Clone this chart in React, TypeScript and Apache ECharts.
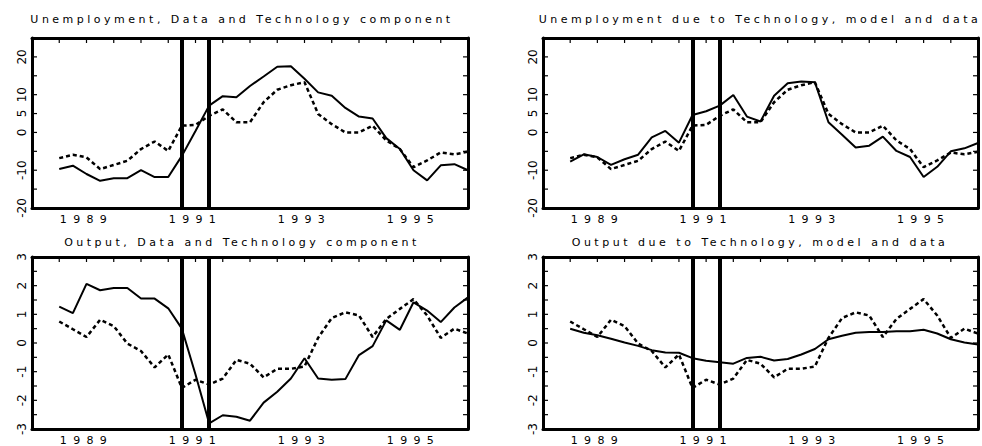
import React, { useEffect, useRef } from "react";
import * as echarts from "echarts";

// Quarterly axis 1988Q1 .. 1996Q1
const axisQuarters: string[] = [
  "1988Q1","1988Q2","1988Q3","1988Q4",
  "1989Q1","1989Q2","1989Q3","1989Q4",
  "1990Q1","1990Q2","1990Q3","1990Q4",
  "1991Q1","1991Q2","1991Q3","1991Q4",
  "1992Q1","1992Q2","1992Q3","1992Q4",
  "1993Q1","1993Q2","1993Q3","1993Q4",
  "1994Q1","1994Q2","1994Q3","1994Q4",
  "1995Q1","1995Q2","1995Q3","1995Q4",
  "1996Q1",
];
const dataQuarters: string[] = axisQuarters.slice(2); // data from 1988Q3
// half-year tick marks along the top edge
const xTickQuarters: string[] = axisQuarters.filter((_q, i) => i % 2 === 0);

const labelQuarters = ["1989Q1", "1991Q1", "1993Q1", "1995Q1"];
const recessionBounds = ["1990Q4", "1991Q2"];

const titles = [
  "Unemployment, Data and Technology component",
  "Unemployment due to Technology, model and data",
  "Output, Data and Technology component",
  "Output due to Technology, model and data",
];

const unempTicks = [-20, -15, -10, -5, 0, 5, 10, 15, 20, 25];
const outputTicks = [-3, -2.5, -2, -1.5, -1, -0.5, 0, 0.5, 1, 1.5, 2, 2.5, 3];
const unempTickLabels = [20, 10, 5, 0, -10, -20];
const outputTickLabels = [3, 2, 1, 0, -1, -2, -3];

// dashed: data
const unempData = [
  -6.8, -5.9, -6.6, -9.7, -8.6, -7.5, -4.4, -2.4, -4.9, 1.8, 2.0, 4.4, 6.1, 2.7, 2.7, 8.0,
  11.3, 12.5, 13.3, 4.9, 2.2, 0.0, 0.0, 1.8, -2.1, -4.4, -9.2, -7.4, -5.3, -5.8, -5.1,
];
// solid, panel 1: technology component
const unempTechComponent = [
  -9.7, -8.8, -11.0, -12.8, -12.1, -12.1, -10.0, -11.8, -11.8, -6.2, 0.4, 7.1, 9.6, 9.3, 12.3, 14.8,
  17.4, 17.5, 14.2, 10.6, 9.7, 6.5, 4.2, 3.7, -1.5, -4.4, -10.0, -12.7, -8.7, -8.4, -10.0,
];
// solid, panel 2: due to technology, model
const unempTechModel = [
  -7.7, -5.8, -6.5, -8.6, -7.1, -5.9, -1.3, 0.4, -2.7, 4.6, 5.6, 7.1, 9.9, 4.2, 2.9, 9.7,
  13.0, 13.5, 13.3, 2.7, -0.6, -4.0, -3.5, -1.1, -4.9, -6.5, -11.8, -9.1, -5.0, -4.2, -2.8,
];
// dashed: output data
const outputData = [
  0.75, 0.48, 0.21, 0.81, 0.59, -0.02, -0.28, -0.85, -0.4, -1.57, -1.28, -1.45, -1.24, -0.59, -0.72, -1.2,
  -0.9, -0.9, -0.82, 0.18, 0.87, 1.07, 0.96, 0.21, 0.84, 1.19, 1.53, 0.96, 0.18, 0.5, 0.33,
];
// solid, panel 3
const outputTechComponent = [
  1.27, 1.04, 2.06, 1.84, 1.92, 1.92, 1.55, 1.55, 1.21, 0.5, -1.1, -2.8, -2.52, -2.57, -2.71, -2.08,
  -1.7, -1.24, -0.53, -1.24, -1.28, -1.26, -0.42, -0.11, 0.79, 0.46, 1.42, 1.13, 0.73, 1.24, 1.59,
];
// solid, panel 4
const outputTechModel = [
  0.5, 0.36, 0.27, 0.15, 0.02, -0.1, -0.25, -0.33, -0.34, -0.53, -0.62, -0.67, -0.72, -0.52, -0.48, -0.61,
  -0.56, -0.4, -0.21, 0.13, 0.25, 0.36, 0.38, 0.38, 0.41, 0.41, 0.46, 0.33, 0.13, 0.02, -0.05,
];

const FONT = "DejaVu Sans";
const titleWidths = [420, 439, 352, 373];
const yearLabelWidth = 47;
const TICK_LEN = 5;
const TICK_W = 1.2;

const grids = [
  { left: 32, top: 38, width: 436, height: 170 },
  { left: 543, top: 38, width: 435, height: 170 },
  { left: 32, top: 257, width: 436, height: 175 },
  { left: 543, top: 257, width: 435, height: 175 },
];
const titlePos = [
  { x: 242, y: 19 },
  { x: 760, y: 19 },
  { x: 242, y: 242 },
  { x: 760, y: 242 },
];

const pair = (arr: number[]) => arr.map((v, i) => [dataQuarters[i], v]);

export default function App() {
  const ref = useRef<HTMLDivElement>(null);

  useEffect(() => {
    if (!ref.current) return;
    const chart = echarts.init(ref.current, null, { renderer: "svg" });

    const xAxis: any[] = [];
    const yAxis: any[] = [];
    const series: any[] = [];

    const panels = [
      { solid: unempTechComponent, dashed: unempData, kind: "u" },
      { solid: unempTechModel, dashed: unempData, kind: "u" },
      { solid: outputTechComponent, dashed: outputData, kind: "o" },
      { solid: outputTechModel, dashed: outputData, kind: "o" },
    ];

    panels.forEach((p, g) => {
      const isU = p.kind === "u";
      const yCommon = {
        type: "value",
        gridIndex: g,
        min: isU ? -20 : -3,
        max: isU ? 25 : 3,
        interval: isU ? 5 : 0.5,
        splitLine: { show: false },
        axisTick: { show: false },
        axisLine: { show: true, onZero: false, lineStyle: { color: "#000", width: 3 } },
      };
      yAxis.push({
        ...yCommon,
        position: "left",
        axisLabel: {
          show: true,
          rotate: 90,
          margin: 4,
          color: "#000",
          fontFamily: FONT,
          fontSize: 12,
          formatter: (v: number) => {
            const list = isU ? unempTickLabels : outputTickLabels;
            return list.includes(v) ? String(v) : "";
          },
        },
      });
      yAxis.push({
        ...yCommon,
        position: "right",
        axisLabel: { show: false },
      });
      const xCommon = {
        type: "category",
        gridIndex: g,
        data: axisQuarters,
        boundaryGap: false,
        splitLine: { show: false },
        axisTick: { show: false },
        axisLine: { show: true, onZero: false, lineStyle: { color: "#000", width: 3 } },
      };
      xAxis.push({
        ...xCommon,
        position: "bottom",
        axisLabel: {
          show: true,
          margin: 6,
          color: "#000",
          fontFamily: FONT,
          fontSize: 11,
          interval: (_i: number, v: string) => labelQuarters.includes(v),
          formatter: (v: string) => v.slice(0, 4),
        },
      });
      xAxis.push({
        ...xCommon,
        position: "top",
        axisLabel: { show: false },
      });

      series.push({
        type: "line",
        xAxisIndex: g * 2,
        yAxisIndex: g * 2,
        data: pair(p.dashed),
        symbol: "none",
        silent: true,
        lineStyle: { color: "#000", width: 2.5, type: [4, 3] },
        markLine: {
          symbol: "none",
          silent: true,
          label: { show: false },
          lineStyle: { color: "#000", width: 4, type: "solid" },
          data: recessionBounds.map((q) => ({ xAxis: q })),
        },
      });
      series.push({
        type: "line",
        xAxisIndex: g * 2,
        yAxisIndex: g * 2,
        data: pair(p.solid),
        symbol: "none",
        silent: true,
        lineStyle: { color: "#000", width: 2 },
      });
    });

    const titleGraphics = titles.map((t, i) => ({
      id: `title${i}`,
      type: "text",
      x: titlePos[i].x,
      y: titlePos[i].y,
      style: {
        text: t,
        align: "center",
        verticalAlign: "middle",
        font: `11px "${FONT}"`,
        fill: "#000",
      },
    }));

    chart.setOption({
      animation: false,
      backgroundColor: "#fff",
      grid: grids.map((gr) => ({
        ...gr,
        show: false,
        containLabel: false,
      })),
      xAxis,
      yAxis,
      series,
      graphic: titleGraphics,
    });

    // Inward tick marks, positioned through the axes' own scales
    const tickGraphics: any[] = [];
    panels.forEach((p, g) => {
      const isU = p.kind === "u";
      const finder = { xAxisIndex: g * 2, yAxisIndex: g * 2 };
      const yMax = isU ? 25 : 3;
      xTickQuarters.forEach((q, k) => {
        const pt = chart.convertToPixel(finder as any, [q, yMax] as any) as any;
        if (!pt || !isFinite(pt[0]) || !isFinite(pt[1])) return;
        tickGraphics.push({
          id: `xt_${g}_${k}`,
          type: "line",
          silent: true,
          z: 50,
          shape: { x1: pt[0], y1: pt[1], x2: pt[0], y2: pt[1] + TICK_LEN },
          style: { stroke: "#000", lineWidth: TICK_W },
        });
      });
      (isU ? unempTicks : outputTicks).forEach((v, k) => {
        const a = chart.convertToPixel(finder as any, [axisQuarters[0], v] as any) as any;
        const b = chart.convertToPixel(finder as any, [axisQuarters[axisQuarters.length - 1], v] as any) as any;
        if (!a || !b || !isFinite(a[0]) || !isFinite(a[1]) || !isFinite(b[0])) return;
        tickGraphics.push({
          id: `yl_${g}_${k}`,
          type: "line",
          silent: true,
          z: 50,
          shape: { x1: a[0], y1: a[1], x2: a[0] + TICK_LEN, y2: a[1] },
          style: { stroke: "#000", lineWidth: TICK_W },
        });
        tickGraphics.push({
          id: `yr_${g}_${k}`,
          type: "line",
          silent: true,
          z: 50,
          shape: { x1: b[0] - TICK_LEN, y1: b[1], x2: b[0], y2: b[1] },
          style: { stroke: "#000", lineWidth: TICK_W },
        });
      });
    });
    if (tickGraphics.length) {
      chart.setOption({ graphic: [...titleGraphics, ...tickGraphics] });
    }

    const spaceTexts = () => {
      const root = ref.current;
      if (!root) return;
      root.querySelectorAll("text").forEach((el) => {
        const t = el as SVGTextElement;
        const s = t.textContent || "";
        let target = 0;
        const ti = titles.indexOf(s);
        if (ti >= 0) target = titleWidths[ti];
        else if (/^\d{4}$/.test(s)) target = yearLabelWidth;
        if (!target) return;
        t.removeAttribute("letter-spacing");
        const len = t.getComputedTextLength();
        const ls = (target - len) / Math.max(1, s.length - 1);
        t.setAttribute("letter-spacing", ls.toFixed(2));
      });
    };
    spaceTexts();
    chart.on("finished", spaceTexts);
    const timer = setTimeout(spaceTexts, 50);

    return () => {
      clearTimeout(timer);
      chart.dispose();
    };
  }, []);

  return (
    <div
      ref={ref}
      style={{ position: "fixed", left: 0, top: 0, width: 982, height: 446, background: "#fff" }}
    />
  );
}
